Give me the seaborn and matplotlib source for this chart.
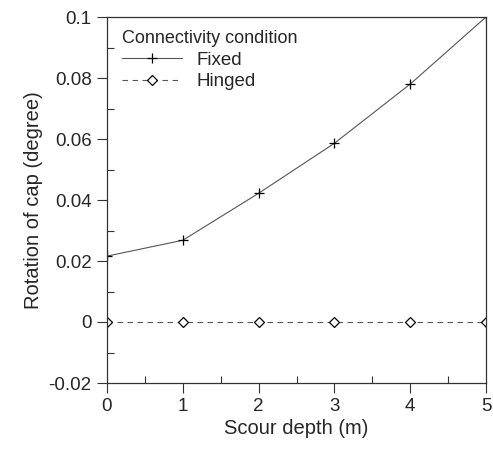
import matplotlib
matplotlib.use("Agg")
import matplotlib.pyplot as plt
from matplotlib.ticker import MultipleLocator
import seaborn as sns

scour_depth = [0, 1, 2, 3, 4, 5]
fixed_rotation = [0.0216, 0.0268, 0.0422, 0.0586, 0.0780, 0.1000]
hinged_rotation = [0.0, 0.0, 0.0, 0.0, 0.0, 0.0]
conditions = ["Fixed", "Hinged"]

sns.set_theme(style="ticks")
plt.rcParams["font.family"] = ["Liberation Sans", "DejaVu Sans"]

fig = plt.figure(figsize=(4.93, 4.50), dpi=100)
ax = fig.add_axes([107 / 493, 1 - 383 / 450, 379 / 493, 366 / 450])

# Fixed connection: solid line with plus markers
sns.lineplot(x=scour_depth, y=fixed_rotation, label=conditions[0],
             color="#555555", linewidth=0.8, marker="+", markersize=7,
             markeredgewidth=0.9, markeredgecolor="black", ax=ax)
# Hinged connection: dashed line with open diamonds
sns.lineplot(x=scour_depth, y=hinged_rotation, label=conditions[1],
             color="#555555", linewidth=0.8, linestyle=(0, (5, 4)),
             marker="D", markersize=5, markeredgewidth=0.9,
             markerfacecolor="white", markeredgecolor="black", ax=ax)

ax.set_xlim(0, 5)
ax.set_ylim(-0.02, 0.1)
ax.xaxis.set_major_locator(MultipleLocator(1))
ax.xaxis.set_minor_locator(MultipleLocator(0.5))
ax.yaxis.set_minor_locator(MultipleLocator(0.01))
ax.set_yticks([-0.02, 0, 0.02, 0.04, 0.06, 0.08, 0.1])
ax.set_yticklabels(["-0.02", "0", "0.02", "0.04", "0.06", "0.08", "0.1"])
ax.tick_params(which="major", direction="out", length=7, width=0.8,
               labelsize=13.5, color="#333333", pad=4)
ax.tick_params(which="minor", direction="in", length=5, width=0.8,
               color="#333333")
for s in ax.spines.values():
    s.set_linewidth(0.9)
    s.set_color("#333333")

ax.set_xlabel("Scour depth (m)", fontsize=14.5, labelpad=3)
ax.set_ylabel("Rotation of cap (degree)", fontsize=14.5, labelpad=4)

leg = ax.legend(title="Connectivity condition", loc="upper left",
                bbox_to_anchor=(0.035, 0.97), borderaxespad=0,
                frameon=False, fontsize=13.5, title_fontsize=13,
                handlelength=3.2, handletextpad=0.75, borderpad=0.1,
                labelspacing=0.25)
leg._legend_box.align = "left"

fig.savefig("out.png", dpi=100)
